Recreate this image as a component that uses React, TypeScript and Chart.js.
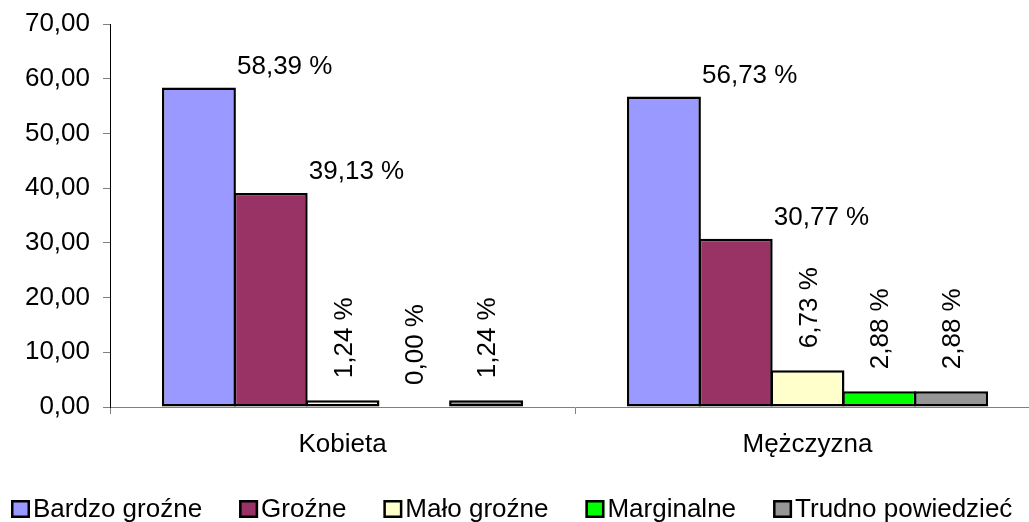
import React, { useEffect, useRef } from 'react';
import { Chart, registerables } from 'chart.js';

Chart.register(...registerables);

const categories = ['Kobieta', 'Mężczyzna'];
const seriesNames = ['Bardzo groźne', 'Groźne', 'Mało groźne', 'Marginalne', 'Trudno powiedzieć'];
const bardzoGrozne = [58.39, 56.73];
const grozne = [39.13, 30.77];
const maloGrozne = [1.24, 6.73];
const marginalne = [0.0, 2.88];
const trudnoPowiedziec = [1.24, 2.88];
const yTicks = [0, 10, 20, 30, 40, 50, 60, 70];
const seriesColors = ['#9999FF', '#993366', '#FFFFCC', '#00FF00', '#969696'];

const FONT = '"Liberation Sans", Arial, sans-serif';
const FONT_SIZE = 26;
const fmt = (v: number) => v.toFixed(2).replace('.', ',');

const barLabelPlugin = {
  id: 'barLabels',
  afterDatasetsDraw(chart: any) {
    const ctx = chart.ctx;
    ctx.save();
    ctx.font = `${FONT_SIZE}px ${FONT}`;
    ctx.fillStyle = '#000';
    chart.data.datasets.forEach((ds: any, di: number) => {
      const meta = chart.getDatasetMeta(di);
      meta.data.forEach((bar: any, i: number) => {
        const v = ds.data[i] as number;
        const text = fmt(v) + ' %';
        const { x, y, width } = bar.getProps(['x', 'y', 'width'], true);
        if (di < 2) {
          ctx.textAlign = 'center';
          ctx.textBaseline = 'alphabetic';
          ctx.fillText(text, x + width * 1.16, y - 14);
        } else {
          ctx.save();
          ctx.translate(x + 9, y - 22);
          ctx.rotate(-Math.PI / 2);
          ctx.textAlign = 'left';
          ctx.textBaseline = 'alphabetic';
          ctx.fillText(text, 0, 0);
          ctx.restore();
        }
      });
    });
    ctx.restore();
  },
};

const legendPlugin = {
  id: 'customLegend',
  afterDraw(chart: any) {
    const ctx = chart.ctx;
    ctx.save();
    ctx.font = `${FONT_SIZE}px ${FONT}`;
    ctx.textBaseline = 'alphabetic';
    ctx.textAlign = 'left';
    let x = 11;
    const boxTop = 500;
    const boxW = 19;
    const boxH = 18;
    const baseline = 517;
    chart.data.datasets.forEach((ds: any) => {
      ctx.fillStyle = ds.backgroundColor;
      ctx.fillRect(x, boxTop, boxW, boxH);
      ctx.strokeStyle = '#000';
      ctx.lineWidth = 2.5;
      ctx.strokeRect(x + 1.25, boxTop + 1.25, boxW - 2.5, boxH - 2.5);
      ctx.fillStyle = '#000';
      const tx = x + boxW + 3;
      ctx.fillText(ds.label, tx, baseline);
      x = tx + ctx.measureText(ds.label).width + 37;
    });
    ctx.restore();
  },
};

export default function App() {
  const canvasRef = useRef<HTMLCanvasElement | null>(null);

  useEffect(() => {
    if (!canvasRef.current) return;
    const seriesValues = [bardzoGrozne, grozne, maloGrozne, marginalne, trudnoPowiedziec];
    const chart = new Chart(canvasRef.current, {
      type: 'bar',
      data: {
        labels: categories,
        datasets: seriesNames.map((name, i) => ({
          label: name,
          data: seriesValues[i],
          backgroundColor: seriesColors[i],
          borderColor: '#000',
          borderWidth: 2.5,
          borderSkipped: false,
          categoryPercentage: 0.772,
          barPercentage: 1.03,
        })),
      },
      options: {
        responsive: false,
        animation: false,
        layout: { padding: { top: 24, right: 20, bottom: 55, left: 0 } },
        plugins: {
          legend: { display: false },
          tooltip: { enabled: false },
        },
        scales: {
          x: {
            offset: true,
            grid: { offset: true, drawOnChartArea: false, tickLength: 7, color: '#808080' },
            border: { color: '#808080' },
            ticks: { font: { size: FONT_SIZE, family: FONT }, color: '#000', padding: 15 },
            afterFit: (s: any) => {
              s.height = 60;
              s.paddingLeft = 0;
              s.paddingRight = 0;
            },
          },
          y: {
            min: 0,
            max: 70,
            afterBuildTicks: (s: any) => {
              s.ticks = yTicks.map((v) => ({ value: v }));
            },
            ticks: {
              font: { size: FONT_SIZE, family: FONT },
              color: '#000',
              padding: 13,
              callback: (v: any) => fmt(Number(v)),
            },
            grid: { drawOnChartArea: false, tickLength: 7, color: '#808080' },
            border: { color: '#000' },
            afterFit: (s: any) => {
              s.width = 110;
              s.paddingTop = 0;
              s.paddingBottom = 0;
            },
          },
        },
      },
      plugins: [barLabelPlugin, legendPlugin],
    } as any);
    return () => chart.destroy();
  }, []);

  return (
    <div style={{ position: 'fixed', left: 0, top: 0, width: 1060, height: 522, background: '#fff' }}>
      <canvas ref={canvasRef} width={1060} height={522} style={{ display: 'block' }} />
    </div>
  );
}
